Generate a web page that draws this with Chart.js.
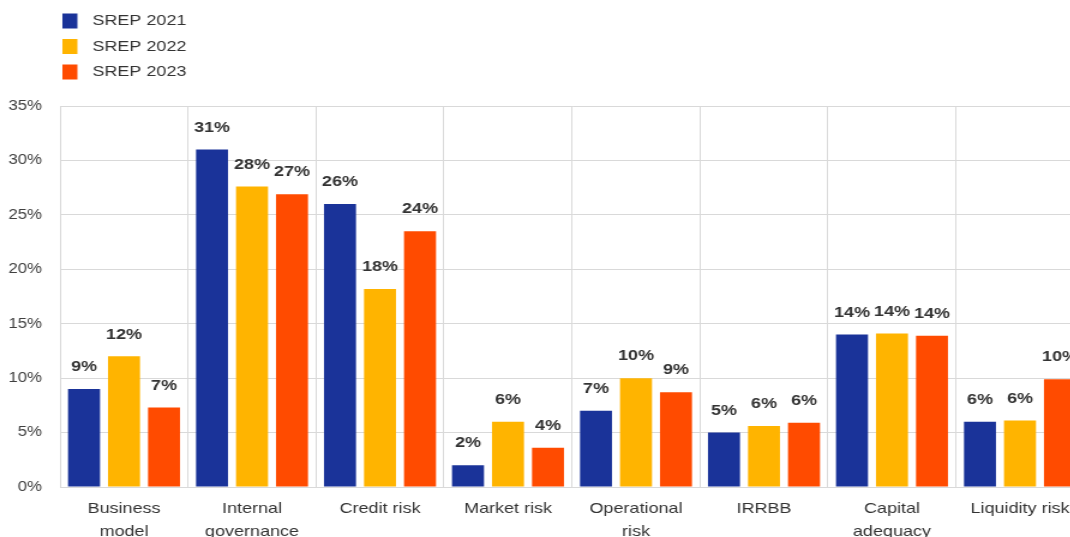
<!DOCTYPE html>
<html>
<head>
<meta charset="utf-8">
<script src="https://cdn.jsdelivr.net/npm/chart.js@4"></script>
<style>
  html, body { margin: 0; padding: 0; overflow: hidden; background: #fff; width: 1070px; height: 537px; }
  #wrap { width: 910px; height: 560px; transform: scaleX(1.2); transform-origin: 0 0; }
</style>
</head>
<body>
<div id="wrap"><canvas id="chart" width="910" height="560"></canvas></div>
<script>
var categories = [['Business', 'model'], ['Internal', 'governance'], 'Credit risk', 'Market risk',
	['Operational', 'risk'], 'IRRBB', ['Capital', 'adequacy'], 'Liquidity risk'];
var seriesNames = ['SREP 2021', 'SREP 2022', 'SREP 2023'];
var srep2021 = [9, 31, 26, 2, 7, 5, 14, 6];
var srep2022 = [12, 27.6, 18.2, 6, 10, 5.6, 14.1, 6.1];
var srep2023 = [7.3, 26.9, 23.5, 3.6, 8.7, 5.9, 13.9, 9.9];
var yTicks = [0, 5, 10, 15, 20, 25, 30, 35];

var colors = ['#1a3399', '#ffb400', '#ff4b00'];
var fontFamily = '"Liberation Sans", Arial, sans-serif';

// legend stacked top-left
var legendPlugin = {
	id: 'stackedLegend',
	afterDraw: function(chart) {
		var ctx = chart.ctx;
		ctx.save();
		ctx.font = '15px ' + fontFamily;
		ctx.textBaseline = 'middle';
		ctx.textAlign = 'left';
		chart.data.datasets.forEach(function(ds, i) {
			var y = 21 + i * 25.5;
			ctx.fillStyle = ds.backgroundColor;
			ctx.fillRect(52, y - 7.5, 12.5, 15);
			ctx.fillStyle = '#333';
			ctx.fillText(ds.label, 77, y);
		});
		ctx.restore();
	}
};

// rounded value labels above bars
var valueLabels = {
	id: 'valueLabels',
	afterDatasetsDraw: function(chart) {
		var ctx = chart.ctx;
		ctx.save();
		ctx.font = 'bold 15px ' + fontFamily;
		ctx.fillStyle = '#333';
		ctx.textAlign = 'center';
		ctx.textBaseline = 'middle';
		chart.data.datasets.forEach(function(ds, i) {
			chart.getDatasetMeta(i).data.forEach(function(bar, j) {
				ctx.fillText(Math.round(ds.data[j]) + '%', bar.x, bar.y - 22);
			});
		});
		ctx.restore();
	}
};

var ctx = document.getElementById('chart').getContext('2d');
var chart = new Chart(ctx, {
	type: 'bar',
	data: {
		labels: categories,
		datasets: [
			{ label: seriesNames[0], data: srep2021, backgroundColor: colors[0] },
			{ label: seriesNames[1], data: srep2022, backgroundColor: colors[1] },
			{ label: seriesNames[2], data: srep2023, backgroundColor: colors[2] }
		]
	},
	options: {
		responsive: false,
		animation: false,
		layout: { padding: { top: 106, right: 6.7, left: 0, bottom: 0 } },
		datasets: { bar: { categoryPercentage: 0.9375, barPercentage: 0.8 } },
		plugins: {
			legend: { display: false },
			tooltip: { enabled: false }
		},
		scales: {
			x: {
				grid: { color: '#d9d9d9', offset: true, drawTicks: false },
				border: { color: '#d9d9d9' },
				ticks: {
					color: '#333',
					font: { family: fontFamily, size: 15, lineHeight: 1.55 },
					padding: 10,
					maxRotation: 0,
					autoSkip: false
				},
				afterFit: function(scale) { scale.height = 73; }
			},
			y: {
				min: 0,
				max: 35,
				afterBuildTicks: function(scale) {
					scale.ticks = yTicks.map(function(v) { return { value: v }; });
				},
				grid: { color: '#d9d9d9', drawTicks: false },
				border: { color: '#d9d9d9' },
				ticks: {
					color: '#404040',
					font: { family: fontFamily, size: 14 },
					padding: 15,
					callback: function(v) { return v + '%'; }
				},
				afterFit: function(scale) { scale.width = 50; }
			}
		}
	},
	plugins: [legendPlugin, valueLabels]
});
</script>
</body>
</html>
